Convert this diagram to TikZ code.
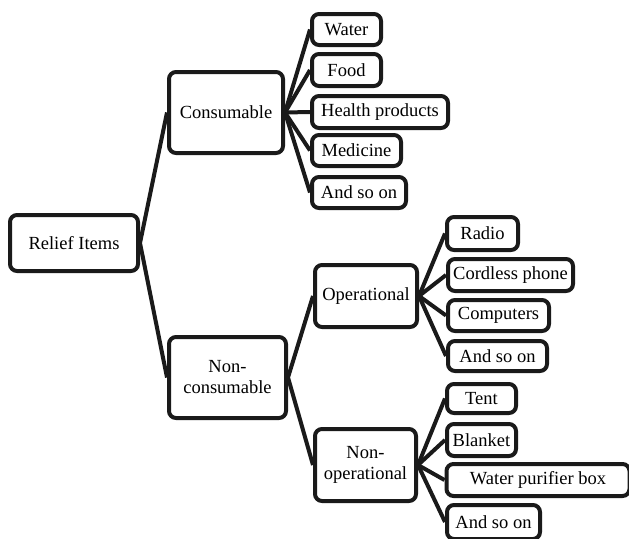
\documentclass[tikz,border=0pt]{standalone}
\usepackage{fontspec}
\setmainfont{Liberation Serif}
\definecolor{ink}{HTML}{1A1A1A}
\begin{document}
\begin{tikzpicture}[x=1pt,y=-1pt,
  box/.style={draw=ink, line width=4pt, rounded corners=7pt, fill=white,
    font=\fontsize{18.5}{21}\selectfont, inner sep=0pt, align=center},
  link/.style={draw=ink, line width=4pt}]
\useasboundingbox (0,0) rectangle (629,538);
\clip (0,0) rectangle (629,538);

% root and first level
\node[box, minimum width=128pt, minimum height=56pt] (relief) at (74,243) {Relief Items};
\node[box, minimum width=114pt, minimum height=81pt] (cons) at (226,112.5) {Consumable};
\node[box, minimum width=117pt, minimum height=81pt] (noncons) at (227.5,377.5) {Non-\\consumable};

% consumable items
\node[box, minimum width=69pt, minimum height=31pt] (water) at (346.5,29.5) {Water};
\node[box, minimum width=69pt, minimum height=32pt] (food) at (346.5,70) {Food};
\node[box, minimum width=136pt, minimum height=32pt] (health) at (380,112) {Health products};
\node[box, minimum width=89pt, minimum height=31pt] (medicine) at (356.5,150.5) {Medicine};
\node[box, minimum width=94pt, minimum height=31pt] (etcA) at (359,192.5) {And so on};

% non-consumable split
\node[box, minimum width=102pt, minimum height=62pt] (oper) at (366,296) {Operational};
\node[box, minimum width=101pt, minimum height=72pt] (nonoper) at (365.5,465) {Non-\\operational};

% operational items
\node[box, minimum width=71pt, minimum height=33pt] (radio) at (482.5,233.5) {Radio};
\node[box, minimum width=125pt, minimum height=32pt] (phone) at (510.5,275) {Cordless phone};
\node[box, minimum width=101pt, minimum height=31pt] (computers) at (498.5,315.5) {Computers};
\node[box, minimum width=99pt, minimum height=30pt] (etcB) at (497.5,356) {And so on};

% non-operational items
\node[box, minimum width=69pt, minimum height=29pt] (tent) at (481.5,398.5) {Tent};
\node[box, minimum width=69pt, minimum height=32pt] (blanket) at (481.5,440) {Blanket};
\node[box, minimum width=183pt, minimum height=32pt] (purifier) at (538,480) {Water purifier box};
\node[box, minimum width=93pt, minimum height=34pt] (etcC) at (493.5,522) {And so on};

% connectors
\path[link] (relief.east) -- (cons.west)
            (relief.east) -- (noncons.west);
\foreach \c in {water,food,health,medicine,etcA}
  \path[link] (cons.east) -- (\c.west);
\path[link] (noncons.east) -- (oper.west)
            (noncons.east) -- (nonoper.west);
\foreach \c in {radio,phone,computers,etcB}
  \path[link] (oper.east) -- (\c.west);
\foreach \c in {tent,blanket,purifier,etcC}
  \path[link] (nonoper.east) -- (\c.west);
\end{tikzpicture}
\end{document}
